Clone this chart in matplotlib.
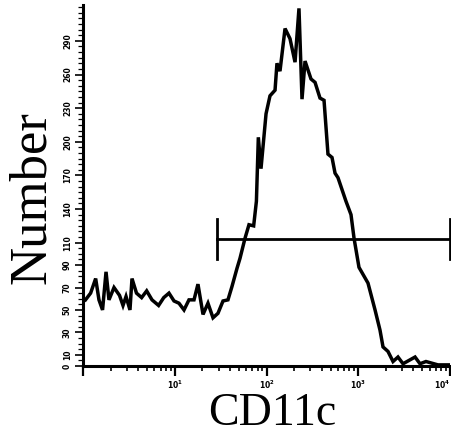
import numpy as np
import matplotlib
matplotlib.use("Agg")
import matplotlib.pyplot as plt
from matplotlib.ticker import FixedLocator, NullFormatter, LogLocator

# Histogram trace: log10 of CD11c fluorescence and event counts
log_intensity = [
    0.027, 0.083, 0.138, 0.174, 0.213, 0.251, 0.283, 0.338, 0.398, 0.436,
    0.469, 0.512, 0.534, 0.583, 0.639, 0.694, 0.752, 0.824, 0.880, 0.937,
    0.992, 1.046, 1.101, 1.155, 1.210, 1.253, 1.308, 1.362, 1.417, 1.471,
    1.526, 1.580, 1.624, 1.678, 1.711, 1.766, 1.809, 1.860, 1.890, 1.911,
    1.940, 1.995, 2.038, 2.093, 2.114, 2.147, 2.202, 2.256, 2.311, 2.354,
    2.387, 2.420, 2.485, 2.529, 2.583, 2.627, 2.670, 2.714, 2.747, 2.779,
    2.866, 2.921, 2.954, 3.008, 3.106, 3.183, 3.237, 3.270, 3.324, 3.379,
    3.433, 3.488, 3.619, 3.673, 3.738, 3.869, 4.000,
]
counts = [
    59, 65, 78, 59, 50, 84, 59, 70, 63, 54,
    62, 50, 78, 65, 61, 67, 59, 54, 61, 65,
    58, 56, 50, 59, 59, 73, 46, 56, 43, 47,
    58, 59, 71, 87, 96, 114, 126, 125, 147, 204,
    176, 225, 241, 246, 270, 263, 301, 292, 271, 319,
    238, 272, 256, 253, 239, 237, 189, 186, 172, 168,
    147, 135, 114, 88, 74, 50, 32, 17, 13, 4,
    8, 2, 8, 2, 4, 1, 1,
]

# Marker gate
gate_start = 1.46
gate_end = 4.0
gate_level = 113
gate_cap = 18

y_tick_values = [0, 10, 30, 50, 70, 90, 110, 140, 170, 200, 230, 260, 290]
x_tick_labels = [r"$\mathbf{10^{1}}$", r"$\mathbf{10^{2}}$", r"$\mathbf{10^{3}}$", r"$\mathbf{10^{4}}$"]

plt.rcParams["font.family"] = ["Liberation Serif", "DejaVu Serif"]

fig = plt.figure(figsize=(4.52, 4.44), dpi=100)
ax = fig.add_axes([83 / 452, 78 / 444, 367 / 452, 361 / 444])

x = 10 ** np.array(log_intensity)
ax.plot(x, counts, color="black", lw=2.5, solid_joinstyle="miter")

g0, g1 = 10 ** gate_start, 10 ** gate_end
ax.plot([g0, g1], [gate_level, gate_level], color="black", lw=2.0, clip_on=False)
for gx in (g0, g1):
    ax.plot([gx, gx], [gate_level - gate_cap, gate_level + gate_cap],
            color="black", lw=2.0, clip_on=False)

ax.set_xscale("log")
ax.set_xlim(1, 1e4)
ax.set_ylim(0, 322)

for s in ("top", "right"):
    ax.spines[s].set_visible(False)
for s in ("left", "bottom"):
    ax.spines[s].set_linewidth(2.2)

ax.xaxis.set_major_locator(FixedLocator([1, 10, 100, 1000, 10000]))
xlabels = ax.set_xticklabels([""] + x_tick_labels)
xlabels[-1].set_horizontalalignment("right")
ax.xaxis.set_minor_locator(LogLocator(base=10, subs=np.arange(2, 10)))
ax.xaxis.set_minor_formatter(NullFormatter())
ax.tick_params(axis="x", which="major", length=7, width=1.6, direction="out",
               labelsize=5.5, pad=2)
ax.tick_params(axis="x", which="minor", length=3.5, width=1.2, direction="out")

ax.yaxis.set_major_locator(FixedLocator(y_tick_values))
ax.yaxis.set_minor_locator(FixedLocator(np.arange(0, 321, 5)))
ax.set_yticklabels([str(v) for v in y_tick_values], rotation=90, va="center",
                   fontsize=5.5, fontweight="bold", family="DejaVu Sans")
ax.tick_params(axis="y", which="major", length=6, width=1.2, direction="out", pad=2)
ax.tick_params(axis="y", which="minor", length=3.5, width=0.9, direction="out")

fig.text(272 / 452, 1 - 414 / 444, "CD11c", fontsize=33, ha="center", va="center")
fig.text(32 / 452, 1 - 198 / 444, "Number", fontsize=38, rotation=90,
         ha="center", va="center")

fig.savefig("out.png", dpi=100)
